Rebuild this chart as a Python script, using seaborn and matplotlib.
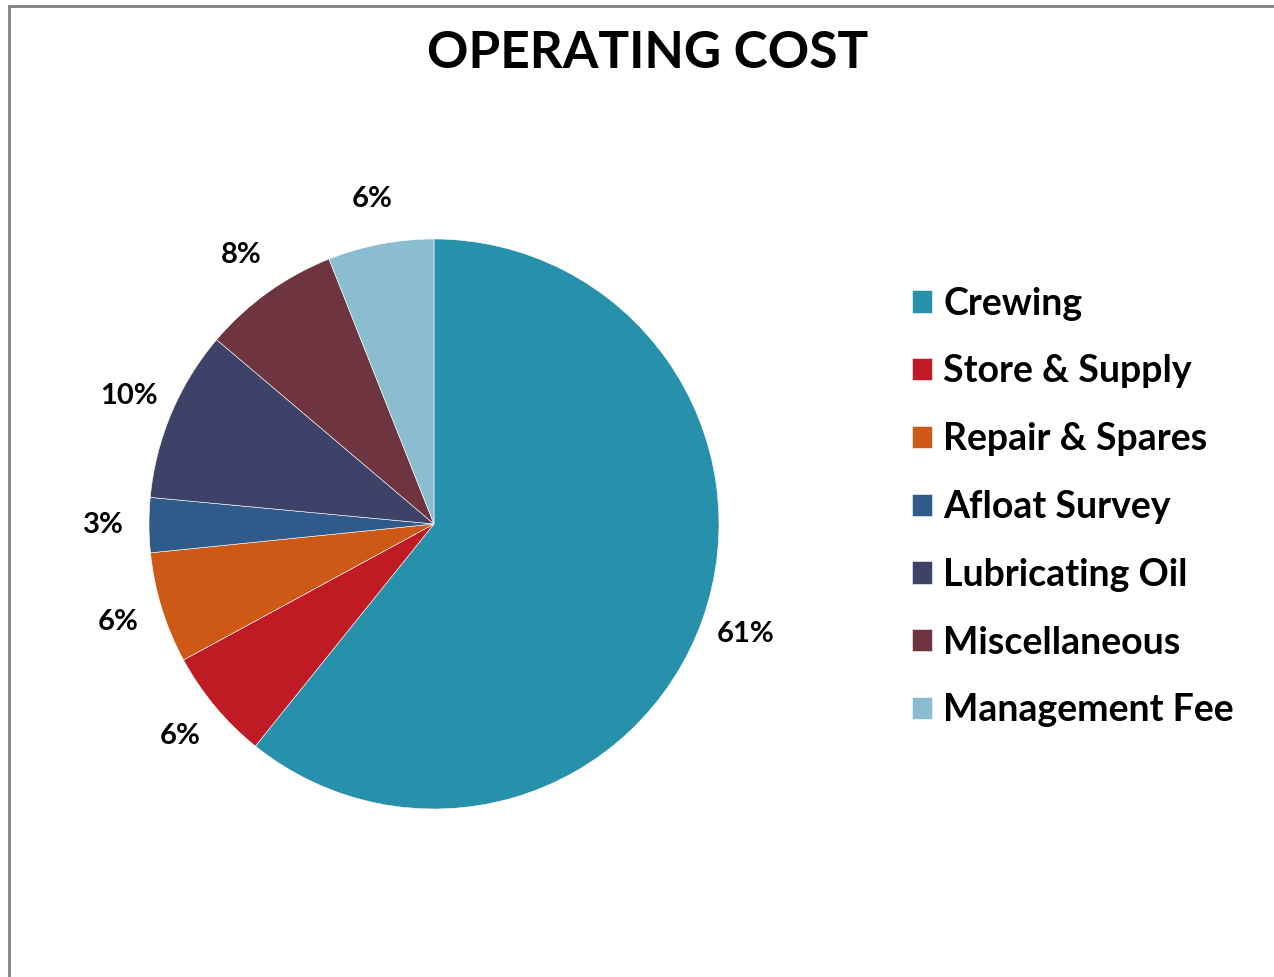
import matplotlib
matplotlib.use("Agg")
import matplotlib.pyplot as plt
import seaborn as sns
from matplotlib.patches import Rectangle

categories = ["Crewing", "Store & Supply", "Repair & Spares", "Afloat Survey",
              "Lubricating Oil", "Miscellaneous", "Management Fee"]
values = [60.75, 6.3, 6.3, 3.1, 9.7, 7.8, 6.0]
colors = ["#2790AB", "#C01A24", "#CE5917", "#305A8A", "#3F4268", "#6E3540", "#8ABDCF"]
title = "OPERATING COST"

sns.set_theme(style="white")
plt.rcParams["font.family"] = ["Lato", "DejaVu Sans"]
plt.rcParams["text.color"] = "black"
palette = sns.color_palette(colors)

fig = plt.figure(figsize=(12.74, 9.77), dpi=100)
ax = fig.add_axes([149 / 1274, 168 / 977, 570 / 1274, 570 / 977])

wedges, texts, autotexts = ax.pie(
    values, colors=palette, startangle=90, counterclock=False,
    autopct=lambda p: f"{p:.0f}%", pctdistance=1.16,
    wedgeprops=dict(edgecolor="white", linewidth=0.4),
    textprops=dict(fontsize=21, fontweight="bold", color="black"),
)
ax.set_xlim(-1, 1)
ax.set_ylim(-1, 1)
ax.set_aspect("equal")
ax.axis("off")

fig.text(648 / 1274, 1 - 53 / 977, title, ha="center", va="center",
         fontsize=37, fontweight="bold", color="black")

leg = fig.legend(wedges, categories, loc="center left",
                 bbox_to_anchor=(912 / 1274, 470 / 977),
                 frameon=False, prop=dict(size=27, weight="bold"),
                 labelcolor="black",
                 handlelength=0.53, handleheight=0.53, handletextpad=0.3,
                 labelspacing=0.9, borderpad=0, borderaxespad=0)

fig.patches.append(Rectangle((8.5 / 1274, -0.2), 1.5, 1.2 - 5.5 / 977 + 0.0,
                             transform=fig.transFigure, fill=False,
                             edgecolor="#808080", linewidth=2.0))

fig.savefig("out.png", dpi=100, facecolor="white")
